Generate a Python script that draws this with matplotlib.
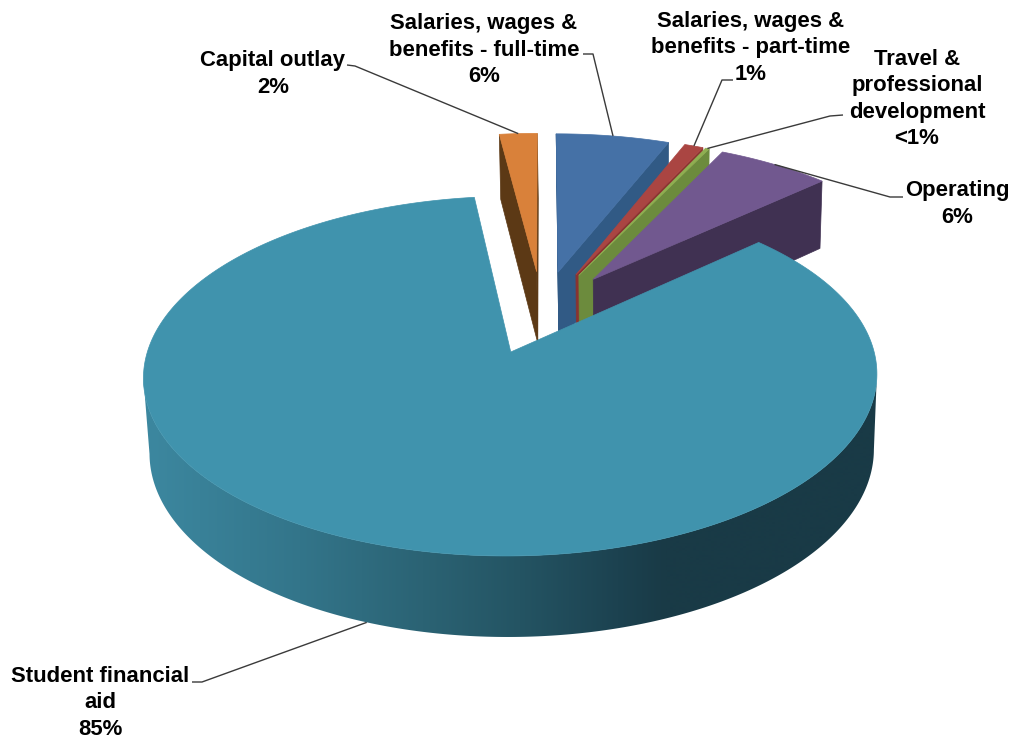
import numpy as np
import matplotlib
matplotlib.use("Agg")
import matplotlib.pyplot as plt
from matplotlib.patches import Polygon
from matplotlib.colors import to_rgb

# Budget shares, clockwise from twelve o'clock
names = ["Salaries, wages &\nbenefits - full-time",
         "Salaries, wages &\nbenefits - part-time",
         "Travel &\nprofessional\ndevelopment",
         "Operating",
         "Student financial\naid",
         "Capital outlay"]
values = [6, 1, 0.2, 6, 85, 2]
value_labels = ["6%", "1%", "<1%", "6%", "85%", "2%"]

top_colors = ["#4571A6", "#AA4542", "#8FAF52", "#71588F", "#4093AD", "#D9813A"]
side_colors = ["#315A85", "#8A3330", "#6C8B3D", "#403152", "#2F6B7E", "#5C3915"]

# Label centres and the elbow of each leader line, in pixels
label_xy = [(484, 50), (751, 48), (917, 99), (957, 204), (100, 703), (273, 74)]
leader_start = [(583, 54), (733, 80), (843, 115), (903, 197), (192, 682), (347, 65)]
leader_elbow = [(593, 54), (722, 80), (830, 116), (890, 197), (202, 682), (355, 66)]

# Perspective camera for the tilted disc
X0, Y0 = 542.0, 311.8
RX, RY = 352.3, 166.0
TILT = 0.13
EXPLODE = 0.25
VANISH_X, CONVERGE = 633.0, 0.0123


def depth(y):
    return 73.0 - 6.5 * y


def top_point(x, y):
    s = 1.0 / (1.0 + TILT * y)
    return np.column_stack([X0 + RX * x * s, Y0 - RY * y * s])


def base_point(x, y):
    p = top_point(x, y)
    d = depth(y)
    p[:, 0] -= CONVERGE * (p[:, 0] - VANISH_X) * d / 75.0
    p[:, 1] += d
    return p


# Shading along the outer wall of the large slice, by screen x
wall_x = [150, 300, 423, 520, 618, 666, 880]
wall_rgb = np.array([to_rgb(c) for c in
                     ["#3C879F", "#33758A", "#2B6374", "#245463", "#1C4250", "#193A46", "#193A46"]])

fig = plt.figure(figsize=(10.16, 7.40), dpi=100, facecolor="white")
ax = fig.add_axes([0, 0, 1, 1])

total = sum(values)
angles = np.radians(np.cumsum([0] + values) / total * 360.0)

# Slices are painted back to front, the large one last
order = [5, 0, 1, 2, 3, 4]
for rank, i in enumerate(order):
    a0, a1 = angles[i], angles[i + 1]
    mid = 0.5 * (a0 + a1)
    ax_x, ax_y = EXPLODE * np.sin(mid), EXPLODE * np.cos(mid)
    t = np.linspace(a0, a1, max(int(np.degrees(a1 - a0) * 2), 12))
    arc_x, arc_y = ax_x + np.sin(t), ax_y + np.cos(t)
    z = 2 + rank * 3

    arc_top = top_point(arc_x, arc_y)
    arc_base = base_point(arc_x, arc_y)
    apex_top = top_point(np.array([ax_x]), np.array([ax_y]))[0]
    apex_base = base_point(np.array([ax_x]), np.array([ax_y]))[0]

    if values[i] == max(values):
        # Outer wall: a horizontal gradient clipped to the front half of the rim
        kr, kl = int(np.argmax(arc_top[:, 0])), int(np.argmin(arc_top[:, 0]))
        wall = Polygon(np.vstack([arc_top[kr:kl + 1], arc_base[kr:kl + 1][::-1]]), closed=True,
                       facecolor="none", edgecolor="none", transform=ax.transData)
        ax.add_patch(wall)
        xs = np.arange(int(arc_top[:, 0].min()) - 8, int(arc_top[:, 0].max()) + 9)
        shade = np.stack([np.interp(xs, wall_x, wall_rgb[:, c]) for c in range(3)], axis=-1)
        img = ax.imshow(shade[np.newaxis, :, :], aspect="auto", interpolation="bilinear",
                        extent=(xs[0], xs[-1], arc_base[:, 1].max() + 2, arc_top[:, 1].min() - 2),
                        zorder=z)
        img.set_clip_path(wall)
    else:
        # Radial faces whose wedge lies above them on screen look at the viewer
        centre = arc_top.mean(axis=0)
        for rim_top, rim_base in ((arc_top[0], arc_base[0]), (arc_top[-1], arc_base[-1])):
            edge = rim_top - apex_top
            side = edge[0] * (centre[1] - apex_top[1]) - edge[1] * (centre[0] - apex_top[0])
            sign = side if edge[0] > 0 else -side
            if sign < 0:
                ax.fill([apex_top[0], rim_top[0], rim_base[0], apex_base[0]],
                        [apex_top[1], rim_top[1], rim_base[1], apex_base[1]],
                        facecolor=side_colors[i], edgecolor=side_colors[i],
                        linewidth=0.5, zorder=z)

    # Top face
    outline = np.vstack([apex_top, arc_top])
    ax.fill(outline[:, 0], outline[:, 1], facecolor=top_colors[i],
            edgecolor=top_colors[i], linewidth=0.5, zorder=z + 1)

    # Leader line from the label to the rim at the middle of the slice
    mx, my = ax_x + np.sin(mid), ax_y + np.cos(mid)
    end = base_point(np.array([mx]), np.array([my]))[0] if my < 0 else \
        top_point(np.array([mx]), np.array([my]))[0]
    line_z = 1 if my < 0 else 30
    ax.plot([leader_start[i][0], leader_elbow[i][0], end[0]],
            [leader_start[i][1], leader_elbow[i][1], end[1]],
            color="#3A3A3A", linewidth=1.0, zorder=line_z, solid_capstyle="butt")

    ax.text(label_xy[i][0], label_xy[i][1], f"{names[i]}\n{value_labels[i]}",
            ha="center", va="center", multialignment="center",
            family="Liberation Sans", weight="bold", fontsize=15.9,
            linespacing=1.33, color="black", zorder=40)

ax.set_xlim(0, 1016)
ax.set_ylim(740, 0)
ax.axis("off")

fig.savefig("out.png", dpi=100, facecolor="white")
